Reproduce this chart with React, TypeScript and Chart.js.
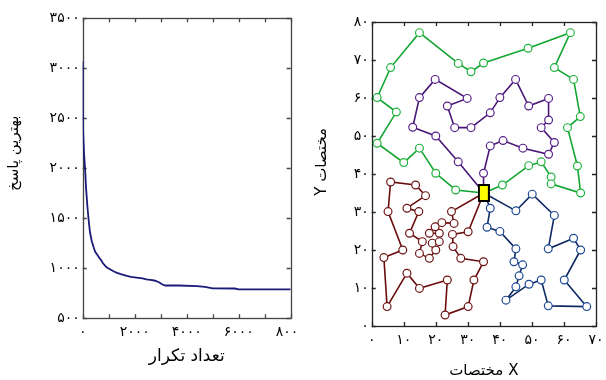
import React, { useEffect, useRef } from 'react';
import { Chart, registerables } from 'chart.js';

Chart.register(...registerables);

// ---------- Left panel: convergence ----------
const iterations = [0, 4, 20, 50, 90, 130, 180, 230, 280, 350, 420, 480, 560, 650, 700, 780, 850, 920, 1050, 1200, 1320, 1500, 1700, 1850, 2000, 2150, 2300, 2450, 2600, 2750, 2850, 2950, 3050, 3170, 3700, 4400, 4700, 4800, 5000, 5850, 6000, 8000];
const bestCost = [3070, 2560, 2350, 2150, 2000, 1800, 1620, 1480, 1360, 1270, 1210, 1165, 1135, 1100, 1085, 1050, 1030, 1010, 990, 968, 955, 940, 925, 915, 910, 905, 900, 890, 885, 878, 870, 858, 840, 828, 828, 822, 815, 810, 800, 798, 790, 790];

// ---------- Right panel: routes ----------
const depotX = [35];
const depotY = [35];

const greenX = [40.8, 49.0, 52.9, 56.0, 56.0, 65.2, 64.2, 61.1, 65.1, 63.0, 57.0, 62.0, 48.8, 34.9, 31.0, 27.0, 14.9, 5.9, 1.7, 7.7, 1.7, 10.0, 14.9, 20.0, 26.2];
const greenY = [37.1, 42.2, 43.2, 39.2, 37.4, 35.0, 42.1, 52.2, 55.1, 64.9, 68.0, 77.2, 73.1, 69.2, 66.9, 69.1, 77.2, 68.0, 60.1, 56.3, 48.1, 43.0, 46.8, 40.2, 35.8];

const purpleX = [34.9, 37.0, 41.0, 47.2, 55.2, 57.0, 52.9, 55.2, 55.2, 49.0, 44.9, 40.0, 37.0, 31.0, 25.9, 23.6, 29.8, 19.8, 14.9, 12.8, 20.0, 27.0];
const purpleY = [40.2, 47.4, 48.8, 46.8, 45.2, 48.3, 52.2, 54.2, 59.9, 57.9, 64.9, 60.1, 56.1, 52.2, 52.2, 57.9, 59.9, 64.9, 60.1, 52.3, 50.0, 43.2];

const redX = [30.1, 25.2, 25.4, 27.8, 34.9, 31.9, 30.1, 22.9, 23.6, 14.9, 11.0, 4.8, 3.8, 9.7, 5.1, 5.9, 13.7, 16.8, 11.0, 14.7, 11.8, 15.8, 14.9, 18.0, 20.0, 18.9, 21.1, 21.1, 18.0, 19.8, 21.9, 25.7, 24.9];
const redY = [24.8, 24.1, 20.9, 17.8, 16.9, 12.1, 5.1, 2.9, 12.1, 9.9, 13.9, 5.1, 18.0, 20.0, 30.1, 37.9, 37.1, 34.3, 31.0, 30.1, 24.4, 22.2, 19.1, 17.8, 20.0, 21.8, 22.2, 24.4, 24.4, 26.1, 27.2, 27.0, 30.1];

const blueX = [37.0, 36.0, 40.0, 45.0, 44.4, 47.1, 46.0, 45.0, 41.9, 49.1, 52.9, 55.1, 67.1, 60.1, 65.2, 63.0, 55.1, 57.0, 50.1, 45.0];
const blueY = [31.0, 26.0, 24.9, 20.3, 16.9, 16.1, 13.2, 10.3, 6.8, 11.0, 12.1, 5.3, 5.1, 12.1, 20.0, 23.1, 20.3, 29.1, 34.7, 30.3];

// ---------- Texts ----------
const leftXTitle = 'تعداد تکرار';
const leftYTitle = 'بهترین پاسخ';
const rightXWord = 'مختصات';
const rightXLetter = 'X';
const rightYTitle = '\u202Bمختصات Y\u202C';

const FA_DIGITS = '۰۱۲۳۴۵۶۷۸۹';
const fa = (v: number) => String(v).replace(/\d/g, (d) => FA_DIGITS[Number(d)]);

const FONT = 'DejaVu Sans';

const frameTicks = {
  id: 'frameTicks',
  beforeDatasetsDraw(chart: any, _a: any, opts: any) {
    const { ctx, chartArea: ca, scales } = chart;
    const x = scales.x;
    const y = scales.y;
    const L = opts.len ?? 4;
    ctx.save();
    ctx.strokeStyle = opts.color ?? '#333';
    ctx.lineWidth = opts.width ?? 1;
    ctx.beginPath();
    for (const t of x.ticks) {
      const p = Math.round(x.getPixelForValue(t.value)) + 0.5;
      ctx.moveTo(p, ca.bottom);
      ctx.lineTo(p, ca.bottom - L);
      ctx.moveTo(p, ca.top);
      ctx.lineTo(p, ca.top + L);
    }
    for (const t of y.ticks) {
      const p = Math.round(y.getPixelForValue(t.value)) + 0.5;
      ctx.moveTo(ca.left, p);
      ctx.lineTo(ca.left + L, p);
      ctx.moveTo(ca.right, p);
      ctx.lineTo(ca.right - L, p);
    }
    ctx.stroke();
    ctx.strokeRect(Math.round(ca.left) + 0.5, Math.round(ca.top) + 0.5, Math.round(ca.right - ca.left), Math.round(ca.bottom - ca.top));
    ctx.restore();
  },
};

// vertical axis title drawn at a chosen spot beside the plot
const sideTitle = {
  id: 'sideTitle',
  afterDraw(chart: any, _a: any, opts: any) {
    const { ctx, chartArea: ca } = chart;
    ctx.save();
    ctx.translate(opts.x, ca.top + (ca.bottom - ca.top) * opts.frac);
    ctx.rotate(-Math.PI / 2);
    ctx.font = `${opts.size}px "${FONT}"`;
    ctx.fillStyle = '#000';
    ctx.textAlign = 'center';
    ctx.textBaseline = 'middle';
    ctx.fillText(opts.text, 0, 0);
    ctx.restore();
  },
};

// bottom title: Persian word on the left, Latin letter on the right
const bottomTitle = {
  id: 'bottomTitle',
  afterDraw(chart: any, _a: any, opts: any) {
    if (!opts || !opts.word) return;
    const { ctx, chartArea: ca } = chart;
    ctx.save();
    ctx.direction = 'ltr';
    ctx.font = `${opts.size}px "${FONT}"`;
    ctx.fillStyle = '#000';
    ctx.textBaseline = 'middle';
    const wWord = ctx.measureText(opts.word).width;
    const wLetter = ctx.measureText(opts.letter).width;
    const gap = opts.gap;
    const total = wWord + gap + wLetter;
    const start = (ca.left + ca.right) / 2 - total / 2;
    ctx.textAlign = 'center';
    ctx.fillText(opts.word, start + wWord / 2, opts.y);
    ctx.fillText(opts.letter, start + wWord + gap + wLetter / 2, opts.y);
    ctx.restore();
  },
};

const zip = (xs: number[], ys: number[]) => xs.map((x, i) => ({ x, y: ys[i] }));

function leftConfig(): any {
  return {
    type: 'line',
    data: {
      datasets: [
        {
          data: zip(iterations, bestCost),
          borderColor: '#1a1a78',
          borderWidth: 1.8,
          pointRadius: 0,
          tension: 0,
          fill: false,
        },
      ],
    },
    options: {
      animation: false,
      responsive: false,
      events: [],
      layout: { padding: { left: 0, right: 9.3, top: 18.3, bottom: 0 } },
      plugins: {
        legend: { display: false },
        tooltip: { enabled: false },
        frameTicks: { len: 4, color: '#444', width: 1.3 },
        sideTitle: { text: leftYTitle, x: 14, frac: 0.45, size: 15 },
      },
      scales: {
        x: {
          type: 'linear',
          min: 0,
          max: 8000,
          afterFit: (s: any) => {
            s.height = 61.7;
            s.paddingLeft = 0;
            s.paddingRight = 0;
          },
          grid: { display: false, drawTicks: false },
          border: { display: false },
          ticks: {
            stepSize: 1000,
            autoSkip: false,
            maxRotation: 0,
            padding: 6,
            color: '#000',
            font: { family: FONT, size: 14 },
            callback: (v: number) => (v % 2000 === 0 ? fa(v) : ''),
          },
          title: {
            display: true,
            text: leftXTitle,
            color: '#000',
            font: { family: FONT, size: 17 },
            padding: { top: 0, bottom: 13 },
          },
        },
        y: {
          min: 500,
          max: 3500,
          afterFit: (s: any) => {
            s.width = 82.7;
            s.paddingTop = 0;
            s.paddingBottom = 0;
          },
          grid: { display: false, drawTicks: false },
          border: { display: false },
          ticks: {
            stepSize: 500,
            autoSkip: false,
            padding: 3,
            color: '#000',
            font: { family: FONT, size: 14 },
            callback: (v: number) => fa(v),
          },
          title: { display: false },
        },
      },
    },
    plugins: [frameTicks, sideTitle],
  };
}

function makeDepotImage() {
  const c = document.createElement('canvas');
  c.width = 12;
  c.height = 18;
  const g = c.getContext('2d')!;
  g.fillStyle = '#ffff00';
  g.fillRect(0, 0, 12, 18);
  g.strokeStyle = '#000';
  g.lineWidth = 2;
  g.strokeRect(1, 1, 10, 16);
  return c;
}

function route(xs: number[], ys: number[], line: string, edge: string) {
  const pts = [{ x: depotX[0], y: depotY[0] }, ...zip(xs, ys), { x: depotX[0], y: depotY[0] }];
  const last = pts.length - 1;
  return {
    data: pts,
    showLine: true,
    borderColor: line,
    borderWidth: 1.6,
    pointRadius: (c: any) => (c.dataIndex === 0 || c.dataIndex === last ? 0 : 3.9),
    pointBorderColor: edge,
    pointBackgroundColor: '#ffffff',
    pointBorderWidth: 1.2,
    tension: 0,
    fill: false,
  };
}

function rightConfig(): any {
  return {
    type: 'scatter',
    data: {
      datasets: [
        {
          data: zip(depotX, depotY),
          pointStyle: makeDepotImage(),
          pointRadius: 9,
          showLine: false,
        },
        route(greenX, greenY, '#13a531', '#1fb23c'),
        route(purpleX, purpleY, '#4a1676', '#55208a'),
        route(redX, redY, '#6a0c0c', '#6e1414'),
        route(blueX, blueY, '#0f2a63', '#1c4894'),
      ],
    },
    options: {
      animation: false,
      responsive: false,
      events: [],
      layout: { padding: { left: 0, right: 7.3, top: 22, bottom: 0 } },
      plugins: {
        legend: { display: false },
        tooltip: { enabled: false },
        frameTicks: { len: 4, color: '#222', width: 1.3 },
        sideTitle: { text: rightYTitle, x: 22, frac: 0.46, size: 15 },
        bottomTitle: { word: rightXWord, letter: rightXLetter, gap: 5, y: 371, size: 15 },
      },
      scales: {
        x: {
          type: 'linear',
          min: 0,
          max: 70,
          afterFit: (s: any) => {
            s.height = 54;
            s.paddingLeft = 0;
            s.paddingRight = 0;
          },
          grid: { display: false, drawTicks: false },
          border: { display: false },
          ticks: {
            stepSize: 10,
            autoSkip: false,
            maxRotation: 0,
            padding: 6,
            color: '#000',
            font: { family: FONT, size: 14 },
            callback: (v: number) => fa(v),
          },
          title: { display: false },
        },
        y: {
          min: 0,
          max: 80,
          afterFit: (s: any) => {
            s.width = 71.7;
            s.paddingTop = 0;
            s.paddingBottom = 0;
          },
          grid: { display: false, drawTicks: false },
          border: { display: false },
          ticks: {
            stepSize: 10,
            autoSkip: false,
            padding: 3,
            color: '#000',
            font: { family: FONT, size: 14 },
            callback: (v: number) => fa(v),
          },
          title: { display: false },
        },
      },
    },
    plugins: [frameTicks, sideTitle, bottomTitle],
  };
}

function ChartCanvas({ make, left, width }: { make: () => any; left: number; width: number }) {
  const ref = useRef<HTMLCanvasElement>(null);
  useEffect(() => {
    const chart = new Chart(ref.current!, make());
    return () => chart.destroy();
  }, [make]);
  return (
    <canvas
      ref={ref}
      width={width}
      height={380}
      style={{ position: 'absolute', left, top: 0, width, height: 380 }}
    />
  );
}

export default function App() {
  return (
    <div style={{ position: 'fixed', left: 0, top: 0, width: 606, height: 380, background: '#fff', overflow: 'hidden' }}>
      <ChartCanvas make={leftConfig} left={0} width={300} />
      <ChartCanvas make={rightConfig} left={300} width={306} />
    </div>
  );
}
